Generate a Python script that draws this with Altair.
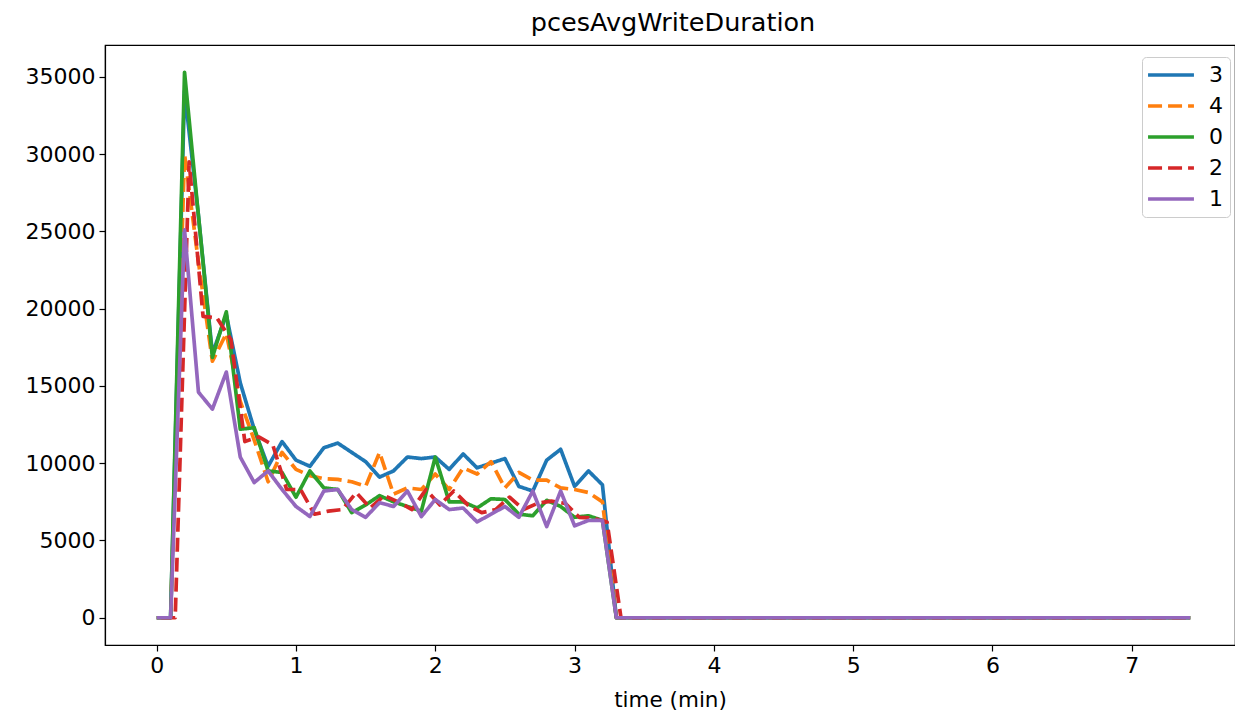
import altair as alt
import pandas as pd

series_order = ["3", "4", "0", "2", "1"]
colors = ["#1f77b4", "#ff7f0e", "#2ca02c", "#d62728", "#9467bd"]
dashes = [[1, 0], [14, 6], [1, 0], [14, 6], [1, 0]]

# sampling start (min) of each series; samples every 0.1 min
time_offset = {"3": 0.0, "4": 0.0, "0": 0.0, "2": 0.033, "1": 0.0}
end_time = 7.42

vals_3 = [0, 0, 34100, 26000, 17100, 19600, 15200, 12200, 9800, 11400,
          10200, 9800, 11000, 11300, 10700, 10100, 9100, 9500, 10400, 10300,
          10400, 9600, 10600, 9700, 10000, 10300, 8500, 8200, 10200, 10900,
          8500, 9500, 8600, 0]
vals_4 = [0, 0, 30000, 23000, 16600, 18400, 14000, 11500, 8800, 10700,
          9600, 9200, 9000, 8950, 8800, 8500, 10700, 8000, 8400, 8300,
          9300, 8300, 9700, 9300, 10100, 8400, 9400, 8900, 8900, 8400,
          8300, 8100, 7500, 0]
vals_0 = [0, 0, 35300, 26000, 16850, 19800, 12200, 12300, 9500, 9400,
          7800, 9500, 8400, 8300, 6800, 7300, 7900, 7500, 7200, 6900,
          10400, 7500, 7500, 7100, 7700, 7650, 6700, 6600, 7600, 7200,
          6500, 6600, 6300, 0]
vals_2 = [0, 0, 29500, 19500, 19400, 18000, 11400, 11700, 11200, 8300,
          8300, 6700, 6900, 7000, 8100, 7100, 7900, 7500, 7000, 8300,
          7300, 8200, 7300, 6800, 7000, 7800, 7000, 7400, 7550, 7400,
          6500, 6450, 6200, 0]
vals_1 = [0, 0, 25100, 14600, 13500, 15900, 10400, 8750, 9500, 8300,
          7200, 6550, 8200, 8300, 7000, 6500, 7450, 7200, 8200, 6550,
          7650, 7000, 7100, 6200, 6700, 7200, 6500, 8200, 5900, 8200,
          5950, 6300, 6300, 0]

series_vals = {"3": vals_3, "4": vals_4, "0": vals_0, "2": vals_2, "1": vals_1}

rows = []
for s in series_order:
    off = time_offset[s]
    for k, v in enumerate(series_vals[s]):
        rows.append({"series": s, "time": round(off + 0.1 * k, 3), "value": v})
    rows.append({"series": s, "time": end_time, "value": 0})
df = pd.DataFrame(rows)

legend = alt.Legend(
    orient="none", legendX=1037, legendY=12, title=None,
    symbolType="M-2.7,0H2.7", symbolSize=289, symbolStrokeWidth=3.7,
    symbolOffset=11, labelOffset=27, labelFontSize=22, labelFont="DejaVu Sans",
    labelColor="black", padding=7, rowPadding=9, fillColor="white",
    strokeColor="#cccccc", cornerRadius=4,
)

chart = alt.Chart(df).mark_line(strokeWidth=3.7, strokeJoin="round").encode(
    x=alt.X("time:Q",
            scale=alt.Scale(domain=[-0.371, 7.741], nice=False, zero=False),
            axis=alt.Axis(values=list(range(8)), title="time (min)", format="d")),
    y=alt.Y("value:Q",
            scale=alt.Scale(domain=[-1765, 37065], nice=False, zero=False),
            axis=alt.Axis(values=list(range(0, 35001, 5000)), title=None, format="d")),
    color=alt.Color("series:N", title=None,
                    scale=alt.Scale(domain=series_order, range=colors), legend=legend),
    strokeDash=alt.StrokeDash("series:N", title=None,
                              scale=alt.Scale(domain=series_order, range=dashes), legend=legend),
).properties(
    width=1130, height=600,
    title=alt.TitleParams("pcesAvgWriteDuration", frame="group", dx=3),
    autosize=alt.AutoSizeParams(type="none"),
    padding={"left": 97, "top": 37, "right": 0, "bottom": 66},
).configure_axis(
    domainColor="black", tickColor="black", labelColor="black", titleColor="black",
    labelFont="DejaVu Sans", titleFont="DejaVu Sans", labelFontSize=22, titleFontSize=21.5,
    titleFontWeight="normal", tickSize=6, grid=False, domainWidth=1.2, tickWidth=1.2,
    labelPadding=4, titlePadding=13,
).configure_view(
    stroke="black", strokeWidth=1.2,
).configure_title(
    font="DejaVu Sans", fontSize=25.5, fontWeight="normal", color="black",
    anchor="middle", offset=9,
)

chart.save("out.html", embed_options={"renderer": "svg", "actions": False})
